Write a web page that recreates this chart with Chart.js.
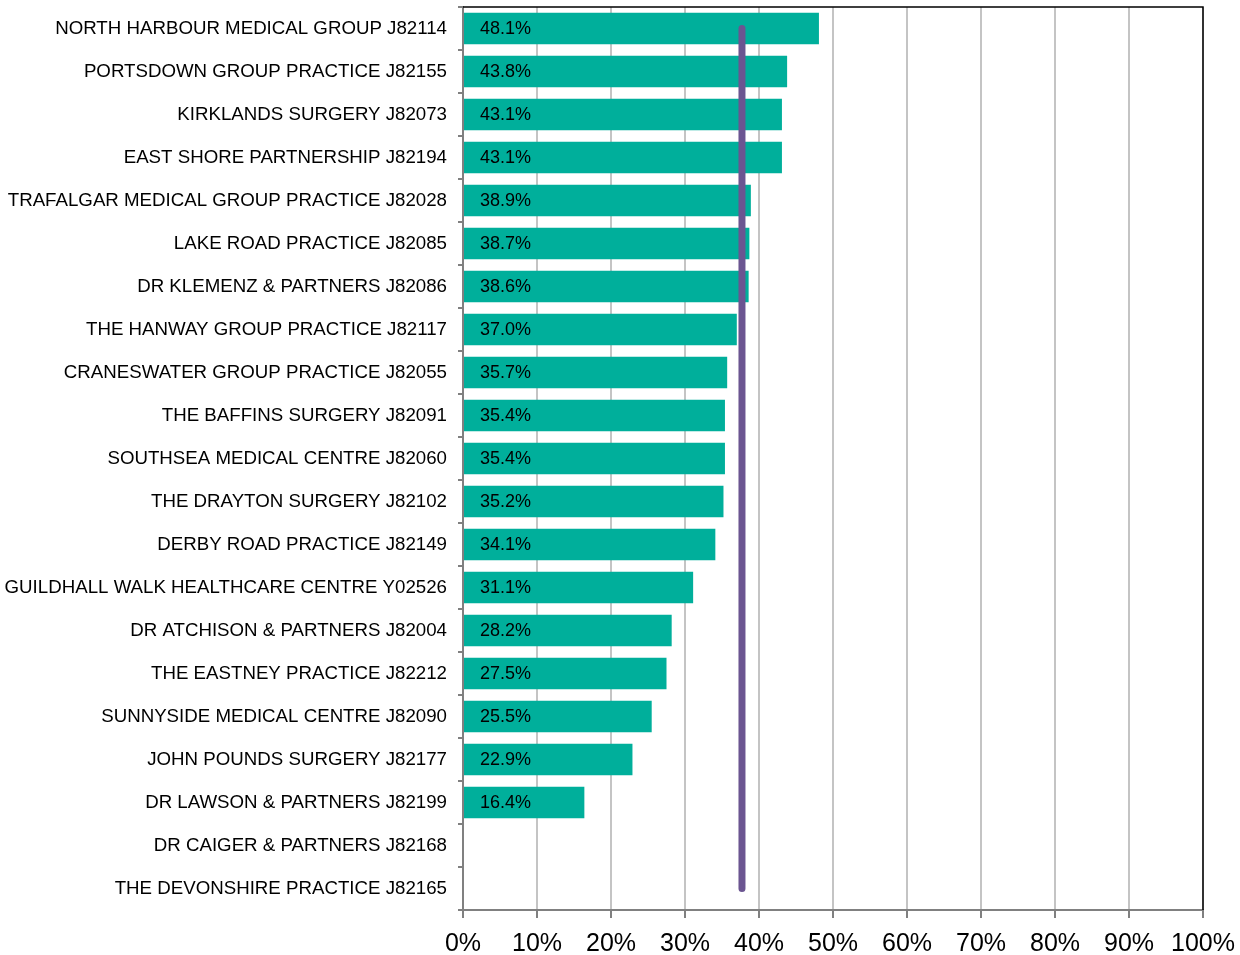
<!DOCTYPE html>
<html>
<head>
<meta charset="utf-8">
<script src="https://cdn.jsdelivr.net/npm/chart.js@4/dist/chart.umd.min.js"></script>
<style>
  body { margin: 0; background: #fff; }
  #wrap { width: 1240px; height: 955px; position: relative; }
</style>
</head>
<body>
<div id="wrap"><canvas id="chart"></canvas></div>
<script>
// ===== data =====
const categories = [
  "NORTH HARBOUR MEDICAL GROUP J82114",
  "PORTSDOWN GROUP PRACTICE J82155",
  "KIRKLANDS SURGERY J82073",
  "EAST SHORE PARTNERSHIP J82194",
  "TRAFALGAR MEDICAL GROUP PRACTICE J82028",
  "LAKE ROAD PRACTICE J82085",
  "DR KLEMENZ & PARTNERS J82086",
  "THE HANWAY GROUP PRACTICE J82117",
  "CRANESWATER GROUP PRACTICE J82055",
  "THE BAFFINS SURGERY J82091",
  "SOUTHSEA MEDICAL CENTRE J82060",
  "THE DRAYTON SURGERY J82102",
  "DERBY ROAD PRACTICE J82149",
  "GUILDHALL WALK HEALTHCARE CENTRE Y02526",
  "DR ATCHISON & PARTNERS J82004",
  "THE EASTNEY PRACTICE J82212",
  "SUNNYSIDE MEDICAL CENTRE J82090",
  "JOHN POUNDS SURGERY J82177",
  "DR LAWSON & PARTNERS J82199",
  "DR CAIGER & PARTNERS J82168",
  "THE DEVONSHIRE PRACTICE J82165"
];
const values = [48.1, 43.8, 43.1, 43.1, 38.9, 38.7, 38.6, 37.0, 35.7, 35.4, 35.4, 35.2, 34.1, 31.1, 28.2, 27.5, 25.5, 22.9, 16.4, null, null];
const average = 37.7;
const xTickValues = [0, 10, 20, 30, 40, 50, 60, 70, 80, 90, 100];

// labels inside bars + top/right frame
const barLabels = {
  id: 'barLabels',
  afterDatasetsDraw(chart) {
    const ctx = chart.ctx;
    const meta = chart.getDatasetMeta(0);
    ctx.save();
    ctx.font = '18px "Liberation Sans", Arial, sans-serif';
    ctx.fillStyle = '#000';
    ctx.textAlign = 'left';
    ctx.textBaseline = 'middle';
    meta.data.forEach((bar, i) => {
      if (values[i] == null) return;
      ctx.fillText(values[i].toFixed(1) + '%', bar.base + 16, bar.y + 1);
    });
    ctx.restore();
  },
  afterDraw(chart) {
    const ctx = chart.ctx, a = chart.chartArea;
    ctx.save();
    ctx.strokeStyle = '#000';
    ctx.lineWidth = 1.5;
    ctx.beginPath();
    ctx.moveTo(a.left, a.top);
    ctx.lineTo(a.right, a.top);
    ctx.lineTo(a.right, a.bottom);
    ctx.stroke();
    ctx.restore();
  }
};

const chart = new Chart(document.getElementById('chart').getContext('2d'), {
  type: 'bar',
  data: {
    labels: categories,
    datasets: [
      {
        data: values,
        backgroundColor: '#00AF9B',
        barPercentage: 0.73,
        categoryPercentage: 1.0,
        order: 2
      },
      {
        type: 'line',
        indexAxis: 'y',
        data: [{x: average, y: categories[0]}, {x: average, y: categories[categories.length - 1]}],
        borderColor: '#6B5591',
        borderWidth: 7,
        borderCapStyle: 'round',
        pointRadius: 0,
        fill: false,
        order: 1
      }
    ]
  },
  options: {
    indexAxis: 'y',
    responsive: true,
    maintainAspectRatio: false,
    animation: false,
    layout: { padding: { top: 7, right: 37, left: 0, bottom: 0 } },
    plugins: { legend: { display: false }, tooltip: { enabled: false } },
    scales: {
      x: {
        min: 0, max: 100,
        afterBuildTicks: s => { s.ticks = xTickValues.map(v => ({value: v})); },
        afterFit: s => { s.height = 45; s.paddingLeft = 0; s.paddingRight = 0; },
        ticks: {
          callback: v => v + '%',
          color: '#000',
          font: { size: 25, family: '"Liberation Sans", Arial, sans-serif' },
          padding: 11,
          maxRotation: 0
        },
        grid: { color: '#C4C4C4', lineWidth: 2, tickColor: '#808080', tickLength: 8 },
        border: { color: '#808080', width: 2 }
      },
      y: {
        afterFit: s => { s.width = 463; s.paddingTop = 0; s.paddingBottom = 0; },
        ticks: {
          color: '#000',
          font: { size: 18.7, family: '"Liberation Sans", Arial, sans-serif' },
          padding: 11,
          autoSkip: false
        },
        grid: { drawOnChartArea: false, offset: true, tickColor: '#808080', tickLength: 5, lineWidth: 2 },
        border: { color: '#808080', width: 2 }
      }
    }
  },
  plugins: [barLabels]
});
</script>
</body>
</html>
